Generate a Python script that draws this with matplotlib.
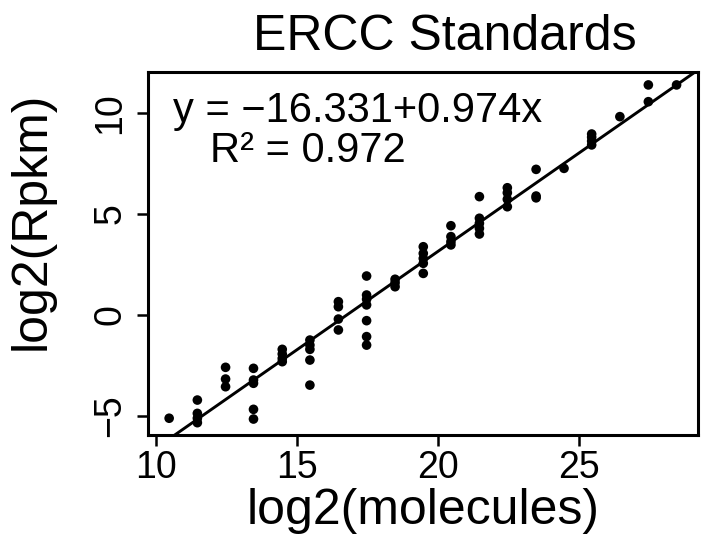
import matplotlib
matplotlib.use("Agg")
import matplotlib.pyplot as plt

plt.rcParams['font.family'] = ['Liberation Sans', 'DejaVu Sans']

# log2(molecules) levels and the log2(Rpkm) readings at each level
x_levels = [10.47, 11.47, 12.47, 13.46, 14.48, 15.46, 16.47, 17.47, 18.48, 19.48,
            20.46, 21.47, 22.46, 23.48, 24.47, 25.45, 26.45, 27.46, 28.46]
y_groups = [
    [-5.11],
    [-4.21, -4.87, -5.11, -5.33],
    [-2.59, -3.17, -3.55],
    [-2.64, -3.22, -3.38, -4.67, -5.15],
    [-1.70, -1.93, -2.15, -2.31],
    [-1.24, -1.49, -1.70, -2.23, -3.47],
    [0.66, 0.41, -0.20, -0.74],
    [1.93, 0.99, 0.78, 0.50, -0.28, -1.07, -1.49],
    [1.77, 1.60, 1.40],
    [3.38, 3.05, 2.80, 2.56, 2.06],
    [4.42, 3.88, 3.63, 3.47],
    [5.86, 4.79, 4.54, 4.29, 4.01],
    [6.30, 6.05, 5.73, 5.36],
    [7.21, 5.89, 5.80],
    [7.26],
    [8.96, 8.80, 8.61, 8.42],
    [9.82],
    [11.39, 10.56],
    [11.39],
]
intercept = -16.331
slope = 0.974
r2 = 0.972

x = []
y = []
for xv, ys in zip(x_levels, y_groups):
    for yv in ys:
        x.append(xv)
        y.append(yv)

W, H = 722, 544
fig = plt.figure(figsize=(W / 100, H / 100), dpi=100)
ax = fig.add_axes([148 / W, 1 - 435 / H, (698 - 148) / W, (435 - 72) / H])

ax.scatter(x, y, s=48, color="black", edgecolors="none", zorder=3)
ax.axline((0, intercept), slope=slope, color="black", linewidth=2.1)

ax.set_xlim(9.72, 29.22)
ax.set_ylim(-5.94, 12.03)
ax.set_xticks([10, 15, 20, 25])
ax.set_yticks([-5, 0, 5, 10])
ax.set_xticklabels(["10", "15", "20", "25"])
ax.set_yticklabels(["\u22125", "0", "5", "10"], rotation=90, va="center")
ax.tick_params(length=8, width=1.8, labelsize=27, pad=3)
ax.tick_params(axis="y", pad=6)
for sp in ax.spines.values():
    sp.set_linewidth(2.2)

fig.text(445 / W, 1 - 50 / H, "ERCC Standards", fontsize=36, ha="center", va="baseline")
fig.text(423 / W, 1 - 524 / H, "log2(molecules)", fontsize=36, ha="center", va="baseline")
fig.text(55 / W, 1 - 221 / H, "log2(Rpkm)", fontsize=36, ha="right", va="center", rotation=90)

fig.text(173 / W, 1 - 122 / H, "y = \u221216.331+0.974x", fontsize=30, ha="left", va="baseline")
fig.text(308 / W, 1 - 162 / H, "R\u00b2 = %.3f" % r2, fontsize=30, ha="center", va="baseline")

fig.savefig("out.png", dpi=100)
